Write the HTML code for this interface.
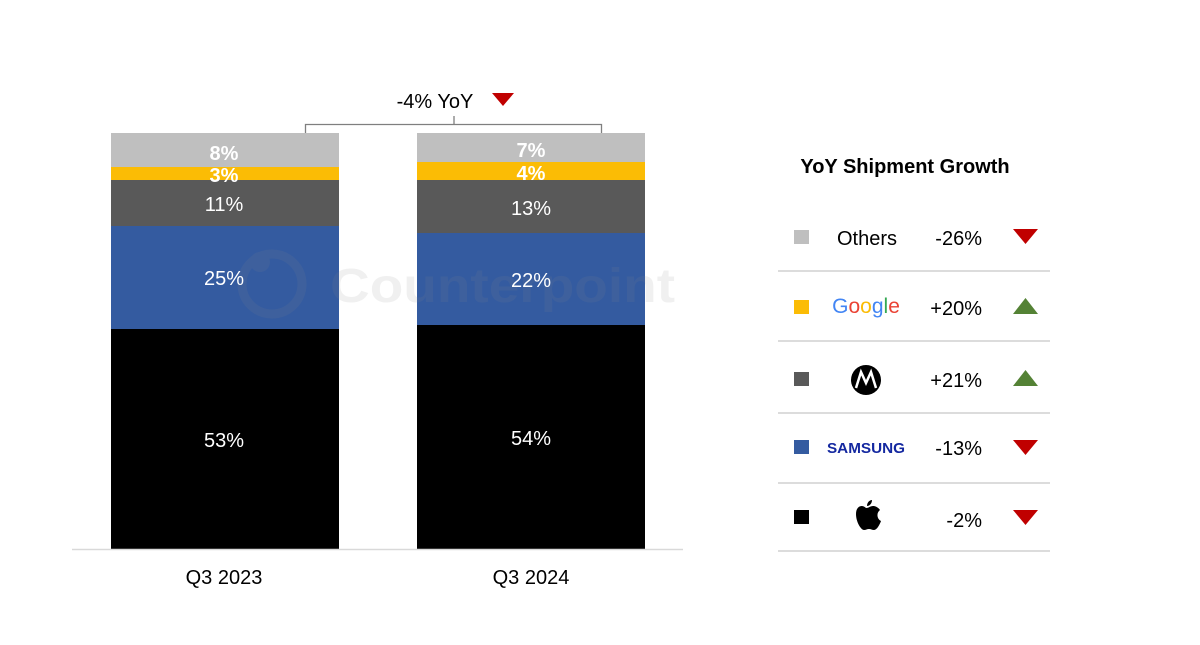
<!DOCTYPE html>
<html><head><meta charset="utf-8"><style>
body{margin:0;background:#fff;}
svg text{font-family:"Liberation Sans",Arial,sans-serif;}
</style></head><body>
<svg width="1200" height="640" viewBox="0 0 1200 640" xmlns="http://www.w3.org/2000/svg">
<rect width="1200" height="640" fill="#fff"/>
<rect x="111" y="133" width="228" height="34" fill="#bfbfbf"/>
<rect x="111" y="167" width="228" height="13" fill="#fbbc05"/>
<rect x="111" y="180" width="228" height="46" fill="#595959"/>
<rect x="111" y="226" width="228" height="103" fill="#345ba0"/>
<rect x="111" y="329" width="228" height="220" fill="#000"/>
<rect x="417" y="133" width="228" height="29" fill="#bfbfbf"/>
<rect x="417" y="162" width="228" height="18" fill="#fbbc05"/>
<rect x="417" y="180" width="228" height="53" fill="#595959"/>
<rect x="417" y="233" width="228" height="92" fill="#345ba0"/>
<rect x="417" y="325" width="228" height="224" fill="#000"/>
<g opacity="0.12">
<circle cx="272" cy="284" r="30" fill="none" stroke="#888" stroke-width="9"/>
<circle cx="260" cy="262" r="10" fill="#888"/>
<text x="330" y="302" font-size="48" font-weight="bold" fill="#888" textLength="345" lengthAdjust="spacingAndGlyphs">Counterpoint</text>
</g>
<g fill="#fff" font-size="20" text-anchor="middle">
<text x="224" y="160" font-weight="bold">8%</text>
<text x="224" y="182" font-weight="bold">3%</text>
<text x="224" y="211">11%</text>
<text x="224" y="285">25%</text>
<text x="224" y="447">53%</text>
<text x="531" y="157" font-weight="bold">7%</text>
<text x="531" y="180" font-weight="bold">4%</text>
<text x="531" y="215">13%</text>
<text x="531" y="287">22%</text>
<text x="531" y="445">54%</text>
</g>
<line x1="72" y1="549.5" x2="683" y2="549.5" stroke="#d9d9d9" stroke-width="1.5"/>
<text x="224" y="584" font-size="20" text-anchor="middle" fill="#000">Q3 2023</text>
<text x="531" y="584" font-size="20" text-anchor="middle" fill="#000">Q3 2024</text>
<path d="M305.5 133 V124.5 H601.5 V133 M454 124.5 V116" fill="none" stroke="#7f7f7f" stroke-width="1.3"/>
<text x="435" y="108" font-size="20" text-anchor="middle" fill="#000">-4% YoY</text>
<polygon points="492,93 514,93 503,106" fill="#c00000"/>
<text x="905" y="173" font-size="20" font-weight="bold" text-anchor="middle" fill="#000">YoY Shipment Growth</text>
<g stroke="#d0d0d0" stroke-width="1.5">
<line x1="778" y1="271" x2="1050" y2="271"/>
<line x1="778" y1="341" x2="1050" y2="341"/>
<line x1="778" y1="413" x2="1050" y2="413"/>
<line x1="778" y1="483" x2="1050" y2="483"/>
<line x1="778" y1="551" x2="1050" y2="551"/>
</g>
<rect x="794" y="230" width="15" height="14" fill="#bfbfbf"/>
<rect x="794" y="300" width="15" height="14" fill="#fbbc05"/>
<rect x="794" y="372" width="15" height="14" fill="#595959"/>
<rect x="794" y="440" width="15" height="14" fill="#345ba0"/>
<rect x="794" y="510" width="15" height="14" fill="#000"/>
<text x="867" y="245" font-size="20" text-anchor="middle" fill="#000">Others</text>
<text x="866" y="313" font-size="21" text-anchor="middle"><tspan fill="#4285f4">G</tspan><tspan fill="#ea4335">o</tspan><tspan fill="#fbbc05">o</tspan><tspan fill="#4285f4">g</tspan><tspan fill="#34a853">l</tspan><tspan fill="#ea4335">e</tspan></text>
<circle cx="866" cy="380" r="15" fill="#000"/>
<path d="M856 388 L861 372 L866 383 L871 372 L876 388" fill="none" stroke="#fff" stroke-width="2.5"/>
<text x="866" y="453" font-size="15" font-weight="bold" text-anchor="middle" fill="#1428a0" textLength="78" lengthAdjust="spacingAndGlyphs">SAMSUNG</text>
<path d="M866 508 C862 504 856 506 856 514 C856 522 861 530 864 530 C866 530 867 529 869 529 C871 529 872 530 874 530 C877 530 880 524 881 521 C877 519 876 513 880 510 C878 507 875 506 873 506 C870 506 869 508 866 508 Z M867 506 C867 502 870 500 872 500 C872 503 870 506 867 506 Z" fill="#000"/>
<text x="982" y="245" font-size="20" text-anchor="end" fill="#000">-26%</text>
<text x="982" y="315" font-size="20" text-anchor="end" fill="#000">+20%</text>
<text x="982" y="387" font-size="20" text-anchor="end" fill="#000">+21%</text>
<text x="982" y="455" font-size="20" text-anchor="end" fill="#000">-13%</text>
<text x="982" y="527" font-size="20" text-anchor="end" fill="#000">-2%</text>
<polygon points="1013,229 1038,229 1025.5,244" fill="#c00000"/>
<polygon points="1013,314 1038,314 1025.5,298" fill="#548235"/>
<polygon points="1013,386 1038,386 1025.5,370" fill="#548235"/>
<polygon points="1013,440 1038,440 1025.5,455" fill="#c00000"/>
<polygon points="1013,510 1038,510 1025.5,525" fill="#c00000"/>
</svg>
</body></html>
